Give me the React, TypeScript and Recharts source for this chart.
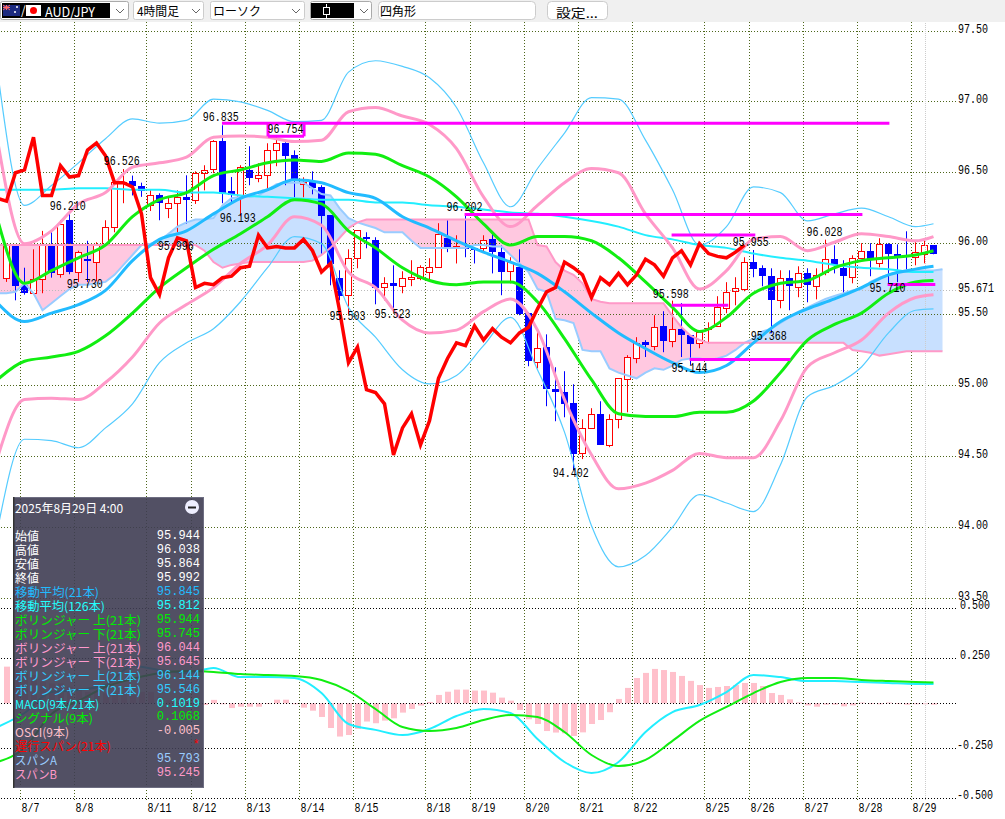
import React from 'react';
import { Area, Bar, CartesianGrid, ComposedChart, Line, ReferenceLine, Scatter, XAxis, YAxis } from 'recharts';

// 4h candles, one entry per bar from 8/6 to 8/29
const opens = [
  95.76, 95.99, 95.71, 95.65, 95.75, 96.00, 95.79, 96.165, 95.80, 95.89,
  95.875, 96.00, 96.115, 96.426, 96.44, 96.41, 96.27, 96.34, 96.25, 96.285,
  96.327, 96.306, 96.50, 96.525, 96.722, 96.37, 96.327, 96.518, 96.46, 96.482,
  96.658, 96.708, 96.623, 96.419, 96.433, 96.398, 96.20, 95.756, 95.636, 95.897,
  96.045, 96.024, 95.692, 95.72, 95.70, 95.749, 95.756, 95.798, 95.833, 96.038,
  95.967, 95.974, 95.967, 95.967, 96.031, 95.94, 95.805, 95.833, 95.509, 95.163,
  95.269, 94.973, 94.952, 94.874, 94.52, 94.697, 94.796, 94.578, 94.761, 95.043,
  95.192, 95.304, 95.276, 95.417, 95.311, 95.396, 95.354, 95.297, 95.396, 95.417,
  95.544, 95.664, 95.678, 95.868, 95.826, 95.77, 95.60, 95.756, 95.692, 95.791,
  95.699, 95.798, 95.89, 95.826, 95.763, 95.897, 95.946, 95.861, 95.995, 95.925,
  95.918, 95.904, 95.925, 95.988,
];
const highs = [
  96.00, 95.99, 95.83, 95.96, 96.09, 96.08, 96.165, 96.21, 95.95, 96.02,
  96.01, 96.165, 96.447, 96.526, 96.48, 96.43, 96.38, 96.355, 96.33, 96.376,
  96.482, 96.51, 96.553, 96.73, 96.835, 96.47, 96.553, 96.687, 96.567, 96.708,
  96.754, 96.715, 96.658, 96.468, 96.51, 96.412, 96.20, 95.812, 95.96, 96.094,
  96.08, 96.045, 95.763, 95.847, 95.805, 95.883, 95.847, 95.897, 96.144, 96.165,
  96.059, 96.202, 95.967, 96.059, 96.073, 95.988, 95.904, 95.96, 95.516, 95.375,
  95.36, 95.128, 95.10, 95.008, 94.761, 94.839, 94.888, 94.796, 95.05, 95.213,
  95.34, 95.319, 95.495, 95.523, 95.598, 95.58, 95.354, 95.389, 95.445, 95.629,
  95.728, 95.763, 95.904, 95.955, 95.847, 95.826, 95.812, 95.812, 95.84, 95.826,
  95.826, 96.028, 95.988, 95.883, 95.918, 96.003, 96.003, 96.038, 96.003, 95.995,
  96.087, 96.01, 96.024, 95.988,
];
const lows = [
  95.73, 95.60, 95.64, 95.65, 95.65, 95.76, 95.76, 95.784, 95.73, 95.73,
  95.735, 95.99, 96.08, 96.285, 96.34, 96.33, 96.23, 96.165, 96.18, 96.08,
  96.14, 96.28, 96.376, 96.497, 96.285, 96.285, 96.193, 96.412, 96.433, 96.383,
  96.546, 96.412, 96.327, 96.327, 96.348, 95.93, 95.706, 95.60, 95.503, 95.826,
  95.967, 95.572, 95.60, 95.523, 95.65, 95.70, 95.742, 95.742, 95.833, 95.94,
  95.86, 95.904, 95.86, 95.94, 95.79, 95.636, 95.72, 95.495, 95.135, 95.12,
  94.853, 94.747, 94.775, 94.402, 94.48, 94.697, 94.585, 94.564, 94.697, 94.81,
  95.156, 95.20, 95.248, 95.234, 95.269, 95.20, 95.144, 95.262, 95.297, 95.417,
  95.509, 95.565, 95.664, 95.763, 95.699, 95.368, 95.544, 95.53, 95.622, 95.586,
  95.607, 95.777, 95.79, 95.65, 95.72, 95.89, 95.77, 95.833, 95.71, 95.728,
  95.819, 95.847, 95.861, 95.925,
];
const closes = [
  95.99, 95.71, 95.66, 95.75, 96.00, 95.80, 96.14, 95.805, 95.94, 95.88,
  96.00, 96.12, 96.433, 96.433, 96.41, 96.38, 96.34, 96.29, 96.285, 96.327,
  96.313, 96.50, 96.518, 96.722, 96.355, 96.35, 96.54, 96.468, 96.482, 96.658,
  96.708, 96.623, 96.461, 96.433, 96.398, 96.20, 95.86, 95.636, 95.897, 96.094,
  96.038, 95.692, 95.72, 95.706, 95.756, 95.763, 95.833, 95.833, 96.066, 95.967,
  95.98, 95.967, 95.96, 96.024, 95.946, 95.805, 95.868, 95.509, 95.178, 95.262,
  94.98, 94.959, 94.874, 94.52, 94.697, 94.796, 94.585, 94.761, 95.05, 95.199,
  95.297, 95.29, 95.41, 95.319, 95.396, 95.36, 95.297, 95.375, 95.403, 95.551,
  95.657, 95.685, 95.868, 95.826, 95.777, 95.608, 95.756, 95.706, 95.791, 95.713,
  95.777, 95.89, 95.854, 95.777, 95.897, 95.946, 95.897, 95.995, 95.932, 95.918,
  95.911, 95.939, 95.988, 95.932,
];

// MACD histogram, same bars
const osci = [
  0.193, 0.175, 0.158, 0.149, 0.114, 0.105, 0.105, 0.088, 0.079, 0.061,
  0.061, 0.053, 0.053, 0.053, 0.044, 0.061, 0.061, 0.032, 0.018, 0.009,
  0, -0.004, -0.009, 0.018, -0.005, -0.025, -0.018, -0.018, -0.018, -0.004,
  0.019, 0.019, -0.005, -0.023, -0.039, -0.072, -0.13, -0.175, -0.167, -0.135,
  -0.096, -0.105, -0.091, -0.079, -0.049, -0.03, -0.012, 0.007, 0.044, 0.061,
  0.072, 0.072, 0.067, 0.067, 0.056, 0.03, 0.014, -0.035, -0.084, -0.109,
  -0.146, -0.154, -0.158, -0.172, -0.153, -0.109, -0.088, -0.047, 0.023, 0.081,
  0.133, 0.16, 0.181, 0.175, 0.165, 0.144, 0.118, 0.096, 0.081, 0.086,
  0.091, 0.096, 0.107, 0.107, 0.091, 0.054, 0.044, 0.021, 0.005, -0.011,
  -0.018, -0.007, -0.007, -0.016, -0.011, 0.004, -0.004, -0.005, 0.004, -0.004,
  -0.007, -0.005, -0.005, -0.007,
];

// the smooth lines were read every third bar
const sampleBars = [
  -1, 2, 5, 8, 11, 14, 17, 20, 23, 26, 29, 32, 35, 38, 41, 44, 47, 50,
  53, 56, 59, 62, 65, 68, 71, 74, 77, 80, 83, 86, 89, 92, 95, 98, 101, 103,
];
const ma21 = [
  95.58, 95.45, 95.51, 95.57, 95.67, 95.88, 96.03, 96.09, 96.21, 96.32, 96.38, 96.45,
  96.43, 96.36, 96.32, 96.19, 96.11, 96.02, 95.94, 95.87, 95.79, 95.66, 95.51, 95.37,
  95.26, 95.16, 95.09, 95.14, 95.30, 95.45, 95.54, 95.61, 95.69, 95.78, 95.82, 95.84,
];
const ma126 = [
  96.38, 96.38, 96.38, 96.39, 96.39, 96.38, 96.38, 96.36, 96.36, 96.34, 96.33, 96.32,
  96.31, 96.31, 96.29, 96.29, 96.27, 96.26, 96.24, 96.22, 96.21, 96.19, 96.16, 96.12,
  96.06, 96.03, 95.99, 95.97, 95.93, 95.90, 95.88, 95.85, 95.83, 95.82, 95.80, 95.80,
];
const bollUp1 = [
  96.17, 95.72, 95.81, 95.90, 95.99, 96.19, 96.31, 96.36, 96.48, 96.52, 96.57, 96.59,
  96.58, 96.64, 96.63, 96.55, 96.47, 96.33, 96.14, 95.99, 96.05, 96.05, 96.02, 95.90,
  95.73, 95.55, 95.38, 95.48, 95.65, 95.72, 95.74, 95.83, 95.88, 95.90, 95.92, 95.95,
];
const bollDown1 = [
  95.04, 95.17, 95.20, 95.24, 95.35, 95.51, 95.69, 95.83, 95.96, 96.07, 96.19, 96.31,
  96.28, 96.09, 95.97, 95.83, 95.74, 95.71, 95.73, 95.73, 95.59, 95.33, 95.04, 94.80,
  94.78, 94.78, 94.81, 94.81, 94.89, 95.09, 95.32, 95.43, 95.51, 95.65, 95.73, 95.74,
];
const bollUp2 = [
  96.73, 96.00, 96.09, 96.28, 96.36, 96.54, 96.57, 96.61, 96.75, 96.76, 96.75, 96.72,
  96.73, 96.93, 96.96, 96.90, 96.84, 96.67, 96.33, 96.12, 96.27, 96.43, 96.53, 96.50,
  96.21, 95.97, 95.68, 95.81, 96.03, 96.05, 95.95, 96.01, 96.07, 96.05, 96.02, 96.05,
];
const bollDown2 = [
  94.49, 94.90, 94.91, 94.90, 95.02, 95.20, 95.44, 95.57, 95.69, 95.86, 95.99, 96.19,
  96.13, 95.80, 95.69, 95.46, 95.37, 95.39, 95.52, 95.61, 95.39, 94.90, 94.51, 94.27,
  94.31, 94.40, 94.52, 94.49, 94.49, 94.75, 95.13, 95.23, 95.32, 95.51, 95.62, 95.64,
];
const bollUp3 = [
  97.22, 96.27, 96.41, 96.57, 96.74, 96.88, 96.85, 96.87, 97.02, 97.00, 96.94, 96.86,
  96.87, 97.21, 97.29, 97.25, 97.17, 96.96, 96.57, 96.26, 96.53, 96.78, 97.03, 97.02,
  96.73, 96.38, 95.99, 96.12, 96.40, 96.36, 96.16, 96.21, 96.25, 96.19, 96.12, 96.14,
];
const bollDown3 = [
  93.98, 94.62, 94.61, 94.56, 94.70, 94.87, 95.16, 95.30, 95.40, 95.59, 95.83, 96.05,
  96.00, 95.55, 95.34, 95.11, 95.01, 95.07, 95.28, 95.48, 95.11, 94.67, 94.01, 93.72,
  93.80, 94.00, 94.23, 94.17, 94.11, 94.44, 94.92, 95.00, 95.13, 95.37, 95.53, 95.54,
];
const macdLine = [
  -0.125, -0.051, 0.059, 0.07, 0.096, 0.196, 0.175, 0.159, 0.186, 0.138, 0.138, 0.133,
  0.054, -0.109, -0.14, -0.167, -0.135, -0.067, -0.03, -0.051, -0.188, -0.309, -0.367, -0.309,
  -0.151, -0.046, -0.009, 0.059, 0.149, 0.138, 0.117, 0.117, 0.112, 0.107, 0.102, 0.102,
];
const signalLine = [
  -0.309, -0.235, -0.056, 0.012, 0.086, 0.128, 0.159, 0.17, 0.165, 0.154, 0.149, 0.144,
  0.123, 0.065, -0.03, -0.125, -0.146, -0.13, -0.088, -0.062, -0.072, -0.151, -0.272, -0.33,
  -0.298, -0.198, -0.093, -0.019, 0.054, 0.112, 0.133, 0.133, 0.123, 0.117, 0.112, 0.109,
];

// lagging span, starts one bar left of the first candle
const chikou = [
  96.32, 96.30, 96.50, 96.52, 96.75, 96.34, 96.34, 96.55, 96.47, 96.48, 96.66, 96.71,
  96.62, 96.43, 96.43, 96.40, 96.21, 95.76, 95.64, 95.90, 96.04, 96.02, 95.69, 95.72,
  95.71, 95.76, 95.77, 95.83, 95.84, 96.06, 95.97, 95.98, 95.97, 95.97, 96.03, 95.95,
  95.80, 95.86, 95.53, 95.16, 95.27, 94.97, 94.95, 94.87, 94.51, 94.70, 94.80, 94.58,
  94.75, 95.05, 95.19, 95.30, 95.28, 95.42, 95.32, 95.40, 95.34, 95.30, 95.37, 95.41,
  95.54, 95.66, 95.69, 95.87, 95.83, 95.78, 95.62, 95.76, 95.71, 95.79, 95.71, 95.78,
  95.89, 95.85, 95.77, 95.90, 95.95, 95.85, 96.00, 95.93, 95.91, 95.90, 95.94, 95.99,
];

// cloud, bar -1 to bar 104 (one past the last candle)
const spanA = [
  95.65, 95.65, 95.66, 95.72, 95.65, 95.53, 95.58, 95.63, 95.68, 95.71, 95.71, 95.72,
  95.73, 95.78, 95.85, 95.92, 95.99, 96.00, 96.02, 96.07, 96.12, 96.15, 96.17, 96.17,
  96.18, 96.27, 96.32, 96.33, 96.33, 96.34, 96.38, 96.42, 96.43, 96.43, 96.43, 96.39,
  96.35, 96.34, 96.25, 96.18, 96.15, 96.13, 96.11, 96.08, 96.08, 96.08, 96.02, 95.97,
  95.97, 95.97, 95.97, 95.97, 95.97, 95.99, 95.99, 95.98, 95.98, 95.92, 95.86, 95.80,
  95.68, 95.66, 95.47, 95.46, 95.44, 95.25, 95.24, 95.24, 95.12, 95.09, 95.07, 95.05,
  95.09, 95.12, 95.11, 95.14, 95.18, 95.19, 95.19, 95.18, 95.19, 95.21, 95.25, 95.30,
  95.33, 95.38, 95.40, 95.44, 95.48, 95.52, 95.55, 95.58, 95.61, 95.63, 95.65, 95.67,
  95.68, 95.73, 95.76, 95.78, 95.80, 95.80, 95.81, 95.81, 95.81, 95.82,
];
const spanB = [
  95.99, 95.99, 95.99, 95.99, 95.99, 95.99, 95.99, 95.99, 95.99, 95.99, 95.99, 95.99,
  95.99, 95.99, 95.99, 95.99, 95.99, 95.99, 95.99, 95.99, 95.99, 95.99, 95.99, 95.95,
  95.87, 95.83, 95.85, 95.86, 95.87, 95.87, 95.87, 95.87, 95.87, 95.87, 95.87, 95.88,
  95.92, 95.97, 96.04, 96.11, 96.15, 96.17, 96.17, 96.17, 96.17, 96.17, 96.17, 96.17,
  96.17, 96.17, 96.17, 96.17, 96.17, 96.17, 96.17, 96.17, 96.17, 96.17, 96.17, 96.17,
  95.99, 95.98, 95.87, 95.81, 95.78, 95.72, 95.61, 95.59, 95.58, 95.58, 95.58, 95.58,
  95.58, 95.58, 95.58, 95.49, 95.41, 95.35, 95.32, 95.30, 95.30, 95.30, 95.30, 95.30,
  95.30, 95.30, 95.30, 95.30, 95.30, 95.30, 95.30, 95.30, 95.30, 95.30, 95.30, 95.25,
  95.24, 95.23, 95.21, 95.22, 95.23, 95.24, 95.24, 95.24, 95.24, 95.24,
];
// bars where the two spans cross
const cloudCrossings = [-1, 15, 39, 82, 104];

const dayLabels = ['8/7', '8/8', '8/11', '8/12', '8/13', '8/14', '8/15', '8/18', '8/19', '8/20', '8/21', '8/22', '8/25', '8/26', '8/27', '8/28', '8/29'];
const dayStarts = [1.556, 7.556, 15.556, 20.556, 26.556, 32.556, 38.556, 46.556, 51.556, 57.556, 63.556, 69.556, 77.556, 82.556, 88.556, 94.556, 100.556];

const priceTicks = [97.5, 97, 96.5, 96, 95.671, 95.5, 95, 94.5, 94, 93.5];
const priceTickLabels = ['97.50', '97.00', '96.50', '96.00', '95.671', '95.50', '95.00', '94.50', '94.00', '93.50'];
const macdTicks = [0.5, 0.237, -0.237, -0.5];
const macdTickLabels = ['0.500', '0.250', '-0.250', '-0.500'];

const peakTexts = ['96.835', '96.754', '96.526', '96.210', '96.193', '95.996', '95.730', '95.503', '95.523', '96.202', '94.402', '95.598', '95.144', '95.955', '95.368', '96.028', '95.710'];
const peakBars = [23.8, 31, 12.8, 6.8, 25.7, 18.8, 8.7, 37.9, 42.9, 50.9, 62.7, 73.8, 75.9, 82.7, 84.7, 90.9, 97.9];
const peakLevels = [96.885, 96.80, 96.574, 96.257, 96.172, 95.974, 95.706, 95.48, 95.495, 96.25, 94.373, 95.636, 95.114, 96.003, 95.339, 96.073, 95.678];

// magenta rectangle tool drawings: [bar from, bar to, price from, price to]
const drawings = [
  [23.94, 98.1, 96.85, 96.85],
  [29.06, 33.06, 96.757, 96.757],
  [29.06, 29.06, 96.85, 96.757],
  [33.06, 33.06, 96.85, 96.757],
  [50.9, 95.1, 96.205, 96.205],
  [73.9, 83.2, 96.06, 96.06],
  [73.9, 80.2, 95.565, 95.565],
  [75.9, 87.1, 95.182, 95.182],
  [97.9, 103.2, 95.711, 95.711],
];

const infoDate = '2025年8月29日 4:00';
const infoLabels = ['始値', '高値', '安値', '終値', '移動平均(21本)', '移動平均(126本)', 'ボリンジャー 上(21本)', 'ボリンジャー 下(21本)', 'ボリンジャー 上(21本)', 'ボリンジャー 下(21本)', 'ボリンジャー 上(21本)', 'ボリンジャー 下(21本)', 'MACD(9本/21本)', 'シグナル(9本)', 'OSCI(9本)', '遅行スパン(21本)', 'スパンA', 'スパンB'];
const infoValues = ['95.944', '96.038', '95.864', '95.992', '95.845', '95.812', '95.944', '95.745', '96.044', '95.645', '96.144', '95.546', '0.1019', '0.1068', '-0.005', '*', '95.793', '95.245'];
const infoColors = ['#ffffff', '#ffffff', '#ffffff', '#ffffff', '#22bbff', '#22ffff', '#00ee00', '#00ee00', '#ff99cc', '#ff99cc', '#33ccff', '#33ccff', '#22ffff', '#00ee00', '#ffc0cb', '#ff0000', '#99ccff', '#ff99c8'];

const rows = opens.map((open, k) => ({
  i: k,
  open,
  high: highs[k],
  low: lows[k],
  close: closes[k],
  candle: [lows[k], highs[k]],
  osci: osci[k],
}));

const sampled = (values: number[]) => sampleBars.map((i, k) => ({ i, v: values[k] }));
const fromBar = (values: number[]) => values.map((v, k) => ({ i: k - 1, v }));
const cloudRows = spanA.map((a, k) => ({ i: k - 1, range: [Math.min(a, spanB[k]), Math.max(a, spanB[k])] }));
const cloudPieces = cloudCrossings.slice(1).map((end, k) => cloudRows.filter((r) => r.i >= cloudCrossings[k] && r.i <= end));
const peakRows = peakTexts.map((text, k) => ({ i: peakBars[k], y: peakLevels[k], text }));

const MONO = '"Liberation Mono", monospace';
const GOTHIC = '"Noto Sans CJK JP", sans-serif';

// the original uses a bitmap gothic: ascii 6px wide, everything else 12px
const gothicWidth = (s: string) => Array.from(s).reduce((w, c) => w + (c.charCodeAt(0) < 256 ? 6 : 12), 0);

const Txt = ({ x, y, text, fill = '#000', anchor = 'start', width, font = MONO, size = 12 }: any) => (
  <text
    x={x}
    y={y}
    fill={fill}
    fontFamily={font}
    fontSize={size}
    textAnchor={anchor}
    dominantBaseline="central"
    textLength={width ?? gothicWidth(text)}
    lengthAdjust="spacingAndGlyphs"
  >
    {text}
  </text>
);

const CandleShape = (props: any) => {
  const { x, y, width, height, payload } = props;
  const { open, close, high, low } = payload;
  const up = close >= open;
  const color = up ? '#ff0000' : '#0000ff';
  const perPrice = height / (high - low);
  const cx = Math.floor(x + width / 2) + 0.5;
  const top = Math.round(y + (high - Math.max(open, close)) * perPrice) + 0.5;
  const h = Math.max(1, Math.round(Math.abs(open - close) * perPrice));
  return (
    <g>
      <line x1={cx} x2={cx} y1={y} y2={y + height} stroke={color} strokeWidth={1} />
      <rect x={cx - 3} y={top} width={6} height={h} fill={up ? '#ffffff' : color} stroke={color} strokeWidth={1} />
    </g>
  );
};

const OsciShape = (props: any) => {
  const { x, y, width, height } = props;
  const cx = Math.floor(x + width / 2) + 0.5;
  return <rect x={cx - 2.5} y={Math.min(y, y + height)} width={6} height={Math.abs(height)} fill="#ffc0cb" />;
};

const DayTick = (props: any) => {
  const { x, y, payload } = props;
  const k = dayStarts.indexOf(payload.value);
  return <Txt x={x + 1} y={y} text={dayLabels[k]} />;
};

const PriceTick = (props: any) => {
  const { x, y, payload } = props;
  return <Txt x={x + 2} y={y - 1.5} text={priceTickLabels[priceTicks.indexOf(payload.value)]} />;
};

const MacdTick = (props: any) => {
  const { x, y, payload } = props;
  const text = macdTickLabels[macdTicks.indexOf(payload.value)];
  return <Txt x={x + (text[0] === '-' ? 0 : 3)} y={y - 2} text={text} />;
};

const PeakLabel = (props: any) => <Txt x={props.cx} y={props.cy} text={props.payload.text} anchor="middle" />;

const Toolbar = () => (
  <svg width={1005} height={22} style={{ position: 'absolute', left: 0, top: 0 }}>
    <rect width={1005} height={22} fill="#f0f0f0" />
    <rect x={0.5} y={1.5} width={128} height={18} rx={2} fill="#fff" stroke="#aaa" />
    <rect x={2} y={3} width={108} height={15} fill="#000" />
    <rect x={3} y={5} width={17} height={11} fill="#1b2a80" />
    <path d="M3 5 L10 10 M10 5 L3 10 M6.5 5 V10 M3 7.5 H10" stroke="#ff6666" strokeWidth={1} />
    <circle cx={15} cy={12} r={1} fill="#fff" />
    <circle cx={17} cy={7} r={1} fill="#fff" />
    <text x={21} y={15} fill="#fff" fontSize={12} fontFamily={GOTHIC}>/</text>
    <rect x={26} y={5} width={15} height={11} fill="#fff" />
    <circle cx={33.5} cy={10.5} r={3.5} fill="#ff0000" />
    <Txt x={45} y={11} text="AUD/JPY" fill="#fff" font={GOTHIC} size={13} width={50} />
    <rect x={133.5} y={1.5} width={70} height={18} rx={2} fill="#fff" stroke="#ccc" />
    <Txt x={137} y={10} text="4時間足" font={GOTHIC} />
    <rect x={210.5} y={1.5} width={94} height={18} rx={2} fill="#fff" stroke="#ccc" />
    <Txt x={213} y={10} text="ローソク" font={GOTHIC} />
    <rect x={310.5} y={1.5} width={61} height={18} rx={2} fill="#fff" stroke="#aaa" />
    <rect x={311} y={3} width={43} height={15} fill="#000" />
    <path d="M326.5 4 V18" stroke="#fff" />
    <rect x={323.5} y={7.5} width={6} height={7} fill="#000" stroke="#fff" />
    {[120, 196, 296, 364].map((a) => (
      <path key={a} d={`M${a - 4} 9 L${a} 13 L${a + 4} 9`} fill="none" stroke="#666" />
    ))}
    <rect x={378.5} y={1.5} width={157} height={18} rx={4} fill="#fff" stroke="#ccc" />
    <Txt x={380} y={10} text="四角形" font={GOTHIC} />
    <rect x={547.5} y={1.5} width={60} height={18} rx={4} fill="#fff" stroke="#ccc" />
    <Txt x={577} y={12} text="設定..." font={GOTHIC} anchor="middle" />
  </svg>
);

const InfoPanel = () => (
  <svg width={192} height={292} style={{ position: 'absolute', left: 13, top: 497 }}>
    <rect x={0.5} y={0.5} width={190} height={290} fill="rgba(63,61,83,0.9)" stroke="#6e6e82" />
    <rect x={0} y={0} width={1.5} height={291} fill="#333" />
    <Txt x={2} y={10} text={infoDate} fill="#fff" font={GOTHIC} />
    <circle cx={179} cy={10} r={7} fill="#eeeeff" />
    <rect x={175} y={9.5} width={8} height={2} fill="#222" />
    {infoLabels.map((label, k) => (
      <g key={k}>
        <Txt x={2} y={38.7 + k * 13.96} text={label} fill={infoColors[k]} font={GOTHIC} />
        <text
          x={187}
          y={39 + k * 13.96}
          fill={infoColors[k]}
          fontFamily={MONO}
          fontSize={12}
          textAnchor="end"
          dominantBaseline="central"
        >
          {infoValues[k]}
        </text>
      </g>
    ))}
  </svg>
);

export default function App() {
  return (
    <div style={{ position: 'absolute', left: 0, top: 0, width: 1005, height: 819, overflow: 'hidden', background: '#fff' }}>
      <div style={{ position: 'absolute', left: -7, top: 0 }}>
        <ComposedChart width={1012} height={819} data={rows} margin={{ top: 22, right: 47, bottom: 0, left: 0 }}>
          <XAxis
            dataKey="i"
            type="number"
            domain={[-1.5, 105.5]}
            ticks={dayStarts}
            interval={0}
            allowDecimals
            allowDataOverflow
            axisLine={false}
            tickLine={false}
            tickSize={0}
            tickMargin={9}
            height={19}
            tick={<DayTick />}
          />
          <YAxis
            orientation="right"
            type="number"
            domain={[92.075, 97.5635]}
            ticks={priceTicks}
            interval={0}
            allowDataOverflow
            width={1}
            axisLine={false}
            tickLine={false}
            tickSize={0}
            tickMargin={0}
            tick={<PriceTick />}
          />
          <YAxis
            yAxisId="macd"
            orientation="right"
            type="number"
            domain={[-0.509, 3.586]}
            ticks={macdTicks}
            interval={0}
            allowDataOverflow
            width={1}
            axisLine={false}
            tickLine={false}
            tickSize={0}
            tickMargin={0}
            tick={<MacdTick />}
          />
          <CartesianGrid vertical horizontal={false} syncWithTicks stroke="#4d661a" strokeDasharray="1 2" shapeRendering="crispEdges" />
          {priceTicks.map((p) => (
            <ReferenceLine key={p} y={p} stroke={p === 95.671 ? '#bbbbbb' : '#4d661a'} strokeDasharray="1 2" shapeRendering="crispEdges" />
          ))}
          {[...macdTicks, 0].map((m) => (
            <ReferenceLine key={m} yAxisId="macd" y={m} stroke="#000" strokeDasharray="1 2" shapeRendering="crispEdges" />
          ))}
          <ReferenceLine x={102.11} stroke="#cccccc" strokeDasharray="1 1" shapeRendering="crispEdges" />

          {cloudPieces.map((piece, k) => (
            <Area
              key={k}
              data={piece}
              dataKey="range"
              type="linear"
              stroke="none"
              fill={k % 2 === 0 ? '#ffc8e0' : '#c8e0ff'}
              fillOpacity={1}
              dot={false}
              activeDot={false}
              isAnimationActive={false}
            />
          ))}
          <Line data={fromBar(spanA)} dataKey="v" type="linear" stroke="#99ccff" strokeWidth={2} dot={false} isAnimationActive={false} />
          <Line data={fromBar(spanB)} dataKey="v" type="linear" stroke="#ff99c8" strokeWidth={2} dot={false} isAnimationActive={false} />

          <Bar yAxisId="macd" dataKey="osci" shape={<OsciShape />} isAnimationActive={false} />
          <Bar dataKey="candle" shape={<CandleShape />} isAnimationActive={false} />

          <Line data={sampled(bollUp3)} dataKey="v" type="monotone" stroke="#55ccff" strokeWidth={1.2} dot={false} isAnimationActive={false} />
          <Line data={sampled(bollDown3)} dataKey="v" type="monotone" stroke="#55ccff" strokeWidth={1.2} dot={false} isAnimationActive={false} />
          <Line data={sampled(ma126)} dataKey="v" type="monotone" stroke="#22eeff" strokeWidth={2} dot={false} isAnimationActive={false} />
          <Line data={sampled(bollUp2)} dataKey="v" type="monotone" stroke="#ff99c8" strokeWidth={3} dot={false} isAnimationActive={false} />
          <Line data={sampled(bollDown2)} dataKey="v" type="monotone" stroke="#ff99c8" strokeWidth={3} dot={false} isAnimationActive={false} />
          <Line data={sampled(ma21)} dataKey="v" type="monotone" stroke="#22bbff" strokeWidth={3} dot={false} isAnimationActive={false} />
          <Line data={sampled(bollUp1)} dataKey="v" type="monotone" stroke="#11ee11" strokeWidth={3} dot={false} isAnimationActive={false} />
          <Line data={sampled(bollDown1)} dataKey="v" type="monotone" stroke="#11ee11" strokeWidth={3} dot={false} isAnimationActive={false} />
          <Line data={fromBar(chikou)} dataKey="v" type="linear" stroke="#ff0000" strokeWidth={3.5} dot={false} isAnimationActive={false} />

          <Line yAxisId="macd" data={sampled(macdLine)} dataKey="v" type="monotone" stroke="#22eeff" strokeWidth={2} dot={false} isAnimationActive={false} />
          <Line yAxisId="macd" data={sampled(signalLine)} dataKey="v" type="monotone" stroke="#11ee11" strokeWidth={2} dot={false} isAnimationActive={false} />

          {drawings.map(([a, b, p, q], k) => (
            <ReferenceLine
              key={k}
              segment={[{ x: a, y: p }, { x: b, y: q }]}
              stroke="#ff00ff"
              strokeWidth={3}
            />
          ))}
          <Scatter data={peakRows} dataKey="y" shape={<PeakLabel />} isAnimationActive={false} />
        </ComposedChart>
      </div>
      <Toolbar />
      <InfoPanel />
    </div>
  );
}
